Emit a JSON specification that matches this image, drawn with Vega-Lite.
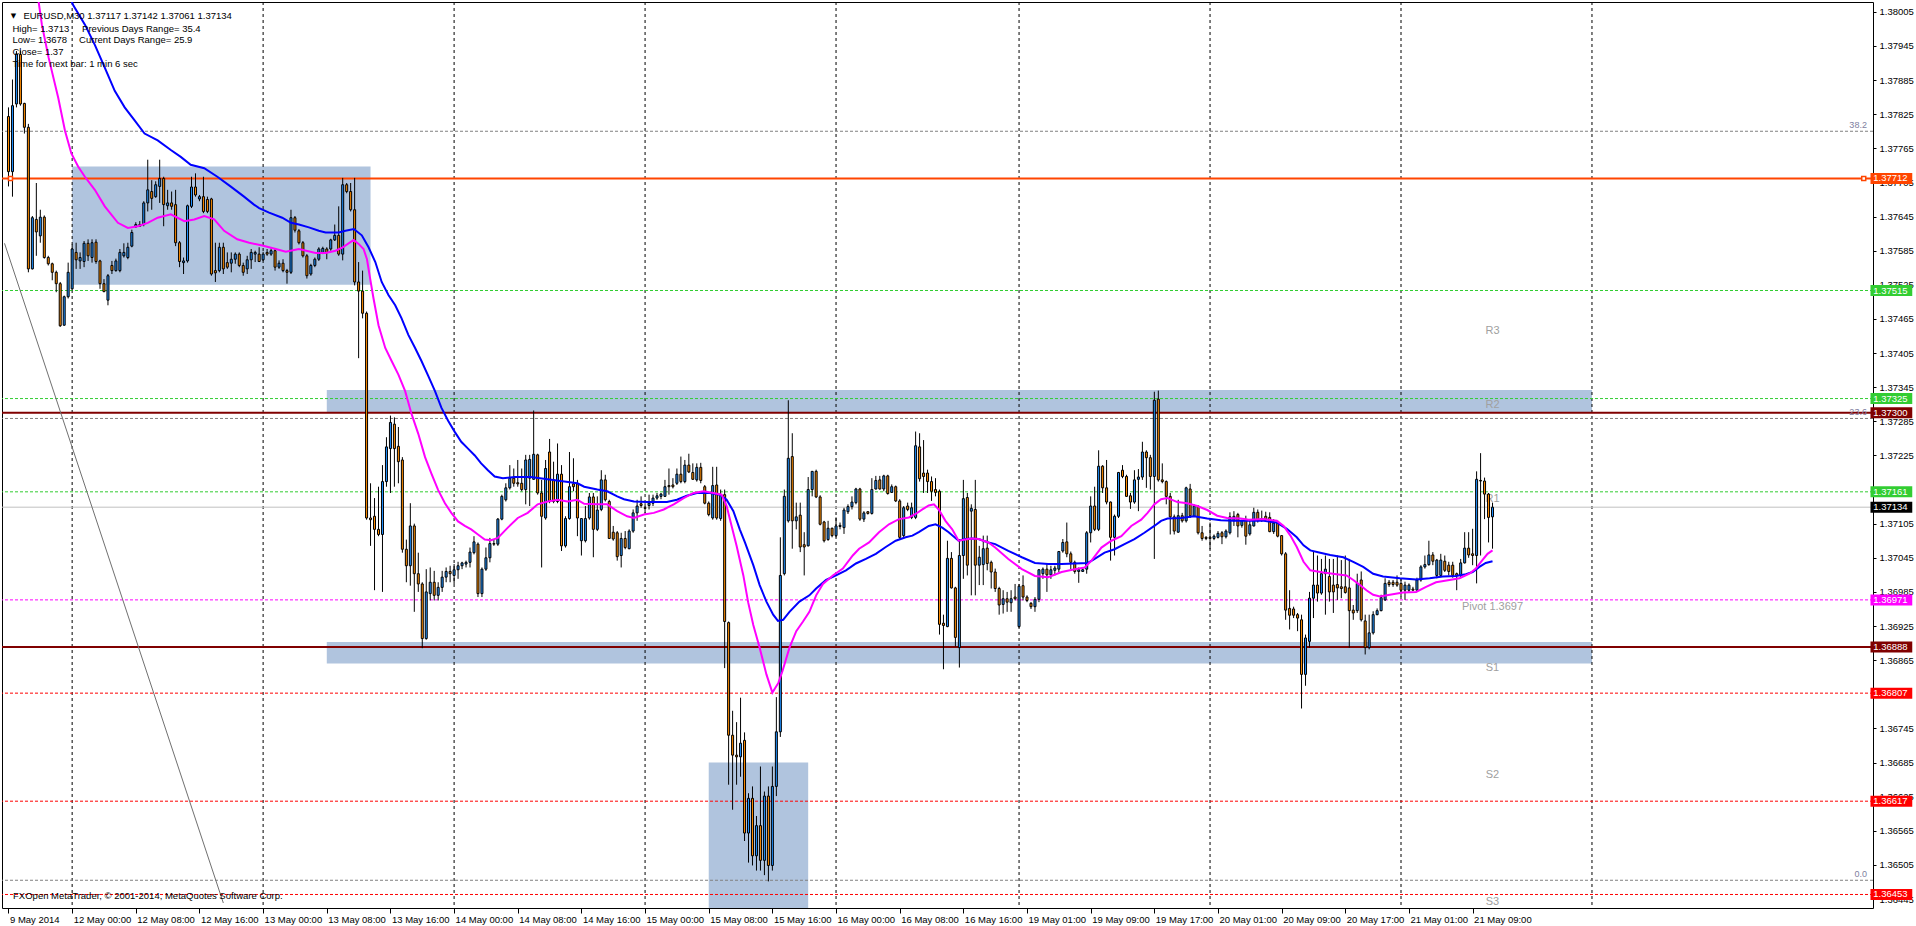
{
"$schema":"https://vega.github.io/schema/vega-lite/v6.json",
"width":1871,"height":906,
"autosize":{"type":"none"},
"padding":{"left":2,"top":2,"right":43,"bottom":18},
"background":"#ffffff",
"config":{"view":{"stroke":"#000000","strokeWidth":1},"font":"Liberation Sans",
 "axis":{"labelFont":"Liberation Sans","labelColor":"#000000","tickColor":"#000000","domain":false,"grid":false,"labelOverlap":false,"labelFlush":false,"labelBound":false},
 "axisX":{"labelAlign":"left","labelOffset":1,"labelFontSize":9.5,"tickSize":5,"labelPadding":1},
 "axisY":{"tickSize":3,"labelPadding":3,"labelFontSize":9.5}},
"resolve":{"axis":{"x":"shared","y":"shared"}},
"datasets":{
"zones":[{"x0":16,"x1":91,"p0":1.37525,"p1":1.37733},{"x0":80,"x1":398,"p0":1.37301,"p1":1.37340},{"x0":80,"x1":398,"p0":1.36859,"p1":1.36897},{"x0":176,"x1":201,"p0":1.36400,"p1":1.36685}],
"grid":[{"i":16},{"i":64},{"i":112},{"i":160},{"i":208},{"i":254},{"i":302},{"i":350},{"i":398}],
"levels":[{"p":1.37712,"k":"hline"},{"p":1.37300,"k":"zone"},{"p":1.36888,"k":"zone"},{"p":1.37515,"k":"res"},{"p":1.37325,"k":"res"},{"p":1.37161,"k":"res"},{"p":1.37134,"k":"price"},{"p":1.36971,"k":"pivot"},{"p":1.36807,"k":"sup"},{"p":1.36617,"k":"sup"},{"p":1.36453,"k":"sup"},{"p":1.37795,"k":"fib"},{"p":1.37290,"k":"fib"},{"p":1.36478,"k":"fib"}],
"fibtext":[{"p":1.37795,"t":"38.2"},{"p":1.37290,"t":"23.6"},{"p":1.36478,"t":"0.0"}],
"plabels":[{"p":1.37443,"t":"R3"},{"p":1.37314,"t":"R2"},{"p":1.37149,"t":"R1"},{"p":1.36959,"t":"Pivot  1.3697"},{"p":1.36852,"t":"S1"},{"p":1.36663,"t":"S2"},{"p":1.36440,"t":"S3"}],
"trend":[{"i":-1,"p":1.37598},{"i":54,"p":1.36438}],
"anchors":[{"i":0.5,"p":1.37712},{"i":466.3,"p":1.37712}],
"info":[{"i":3.75,"p":1.37998,"t":"EURUSD,M30  1.37117 1.37142 1.37061 1.37134"},{"i":1,"p":1.37975,"t":"High= 1.3713"},{"i":18.5,"p":1.37975,"t":"Previous Days Range= 35.4"},{"i":1,"p":1.37956,"t":"Low= 1.3678"},{"i":17.75,"p":1.37956,"t":"Current Days Range= 25.9"},{"i":1,"p":1.37934,"t":"Close= 1.37"},{"i":1,"p":1.37913,"t":"Time for next bar: 1 min 6 sec"},{"i":1.15,"p":1.36451,"t":"FXOpen MetaTrader, © 2001-2014, MetaQuotes Software Corp."}],
"tri":[{"i":1.25,"p":1.37998,"t":"▼"}],
"mab":[{"i":10,"p":1.38117},{"i":16.25,"p":1.38017},{"i":19.25,"p":1.37982},{"i":21.7,"p":1.37947},{"i":24.2,"p":1.37907},{"i":26.7,"p":1.37866},{"i":29.2,"p":1.37837},{"i":31.7,"p":1.37814},{"i":34.2,"p":1.37791},{"i":37.5,"p":1.37779},{"i":40.8,"p":1.37762},{"i":43.3,"p":1.37750},{"i":45.8,"p":1.37736},{"i":49.2,"p":1.37730},{"i":52.5,"p":1.37715},{"i":55.8,"p":1.37698},{"i":59.2,"p":1.37680},{"i":61.7,"p":1.37666},{"i":63,"p":1.37660},{"i":65.5,"p":1.37652},{"i":68.8,"p":1.37643},{"i":71,"p":1.37634},{"i":73,"p":1.37631},{"i":75.5,"p":1.37626},{"i":78,"p":1.37620},{"i":79.7,"p":1.37617},{"i":83,"p":1.37617},{"i":84.7,"p":1.37620},{"i":86.8,"p":1.37623},{"i":88.8,"p":1.37612},{"i":90.5,"p":1.37591},{"i":92.2,"p":1.37565},{"i":93.8,"p":1.37530},{"i":95.5,"p":1.37507},{"i":97.2,"p":1.37489},{"i":98.8,"p":1.37466},{"i":100.5,"p":1.37437},{"i":102.2,"p":1.37414},{"i":103.8,"p":1.37391},{"i":105.5,"p":1.37365},{"i":107.2,"p":1.37338},{"i":108.8,"p":1.37309},{"i":110.5,"p":1.37286},{"i":112.2,"p":1.37266},{"i":113.8,"p":1.37249},{"i":115.5,"p":1.37237},{"i":117.2,"p":1.37225},{"i":118.8,"p":1.37211},{"i":120.5,"p":1.37199},{"i":122.2,"p":1.37188},{"i":124.25,"p":1.37185},{"i":127.2,"p":1.37187},{"i":131.3,"p":1.37187},{"i":135.5,"p":1.37183},{"i":139.7,"p":1.37179},{"i":143,"p":1.37176},{"i":144.7,"p":1.37170},{"i":148,"p":1.37165},{"i":150.5,"p":1.37162},{"i":153,"p":1.37153},{"i":154.7,"p":1.37148},{"i":157.2,"p":1.37144},{"i":160.5,"p":1.37143},{"i":165.5,"p":1.37143},{"i":168,"p":1.37147},{"i":170.5,"p":1.37154},{"i":173,"p":1.37159},{"i":176.3,"p":1.37159},{"i":178.8,"p":1.37156},{"i":180.5,"p":1.37147},{"i":182.2,"p":1.37127},{"i":183.8,"p":1.37095},{"i":185.1,"p":1.37072},{"i":187.2,"p":1.37032},{"i":188.8,"p":1.36997},{"i":190.5,"p":1.36968},{"i":192.2,"p":1.36945},{"i":193.4,"p":1.36934},{"i":194.7,"p":1.36936},{"i":196.3,"p":1.36950},{"i":198.8,"p":1.36968},{"i":201.3,"p":1.36979},{"i":203,"p":1.36991},{"i":205.5,"p":1.37006},{"i":208,"p":1.37014},{"i":210.5,"p":1.37023},{"i":213,"p":1.37035},{"i":215.5,"p":1.37043},{"i":218,"p":1.37052},{"i":220.5,"p":1.37064},{"i":223,"p":1.37075},{"i":225.5,"p":1.37081},{"i":227.2,"p":1.37084},{"i":228.8,"p":1.37090},{"i":231.3,"p":1.37101},{"i":233,"p":1.37104},{"i":234.7,"p":1.37098},{"i":236.3,"p":1.37090},{"i":238.8,"p":1.37075},{"i":240.5,"p":1.37078},{"i":242.2,"p":1.37079},{"i":243.8,"p":1.37078},{"i":246.3,"p":1.37072},{"i":248,"p":1.37069},{"i":251.3,"p":1.37057},{"i":254.7,"p":1.37046},{"i":258,"p":1.37036},{"i":261.3,"p":1.37034},{"i":264.7,"p":1.37034},{"i":268,"p":1.37035},{"i":271.3,"p":1.37036},{"i":273,"p":1.37043},{"i":275.5,"p":1.37054},{"i":278,"p":1.37060},{"i":280.5,"p":1.37069},{"i":283,"p":1.37078},{"i":285.5,"p":1.37089},{"i":288,"p":1.37101},{"i":289.7,"p":1.37110},{"i":291.3,"p":1.37114},{"i":294.7,"p":1.37115},{"i":298,"p":1.37118},{"i":301.3,"p":1.37114},{"i":304.7,"p":1.37111},{"i":308,"p":1.37110},{"i":311.75,"p":1.37110},{"i":315.5,"p":1.37110},{"i":318.8,"p":1.37107},{"i":321.3,"p":1.37096},{"i":323.8,"p":1.37081},{"i":325.5,"p":1.37067},{"i":327.2,"p":1.37058},{"i":329.7,"p":1.37054},{"i":332.2,"p":1.37050},{"i":335.5,"p":1.37046},{"i":338,"p":1.37038},{"i":340.5,"p":1.37029},{"i":343,"p":1.37017},{"i":345.5,"p":1.37012},{"i":349.7,"p":1.37009},{"i":353.8,"p":1.37007},{"i":357.2,"p":1.37009},{"i":360.5,"p":1.37012},{"i":363.8,"p":1.37013},{"i":366.3,"p":1.37016},{"i":368,"p":1.37020},{"i":369.7,"p":1.37029},{"i":371.3,"p":1.37036},{"i":373,"p":1.37039}],
"mam":[{"i":6,"p":1.38100},{"i":8.4,"p":1.37982},{"i":10.1,"p":1.37924},{"i":12.5,"p":1.37854},{"i":14.2,"p":1.37796},{"i":15.8,"p":1.37756},{"i":17.5,"p":1.37733},{"i":19.2,"p":1.37715},{"i":21.7,"p":1.37692},{"i":24.2,"p":1.37663},{"i":27.5,"p":1.37634},{"i":30,"p":1.37625},{"i":32.5,"p":1.37628},{"i":35,"p":1.37634},{"i":37.5,"p":1.37643},{"i":40.8,"p":1.37649},{"i":44.2,"p":1.37637},{"i":46.7,"p":1.37640},{"i":49.2,"p":1.37646},{"i":51.7,"p":1.37640},{"i":54.2,"p":1.37620},{"i":57.5,"p":1.37605},{"i":60.5,"p":1.37599},{"i":63.8,"p":1.37594},{"i":67.2,"p":1.37588},{"i":69.7,"p":1.37583},{"i":73,"p":1.37588},{"i":77.2,"p":1.37581},{"i":79.7,"p":1.37581},{"i":82.2,"p":1.37585},{"i":84,"p":1.37591},{"i":86.75,"p":1.37604},{"i":88,"p":1.37597},{"i":89.25,"p":1.37588},{"i":90.1,"p":1.37570},{"i":90.9,"p":1.37536},{"i":91.75,"p":1.37501},{"i":93,"p":1.37454},{"i":94.7,"p":1.37414},{"i":96.3,"p":1.37391},{"i":98,"p":1.37367},{"i":99.7,"p":1.37338},{"i":101.3,"p":1.37298},{"i":103,"p":1.37263},{"i":104.7,"p":1.37222},{"i":106.3,"p":1.37193},{"i":108,"p":1.37164},{"i":109.7,"p":1.37141},{"i":111.3,"p":1.37124},{"i":113,"p":1.37109},{"i":114.7,"p":1.37101},{"i":116.3,"p":1.37095},{"i":118,"p":1.37086},{"i":119.7,"p":1.37077},{"i":121.3,"p":1.37076},{"i":123,"p":1.37080},{"i":125.5,"p":1.37098},{"i":128,"p":1.37115},{"i":130.5,"p":1.37124},{"i":133,"p":1.37139},{"i":135.5,"p":1.37144},{"i":138,"p":1.37147},{"i":140.5,"p":1.37144},{"i":143,"p":1.37147},{"i":144.7,"p":1.37140},{"i":148,"p":1.37139},{"i":150.5,"p":1.37139},{"i":153,"p":1.37127},{"i":155.5,"p":1.37118},{"i":157.2,"p":1.37115},{"i":159.7,"p":1.37121},{"i":162.2,"p":1.37124},{"i":164.7,"p":1.37130},{"i":167.2,"p":1.37139},{"i":169.7,"p":1.37150},{"i":172.2,"p":1.37159},{"i":174.7,"p":1.37162},{"i":177.2,"p":1.37159},{"i":179.25,"p":1.37156},{"i":180.5,"p":1.37136},{"i":181.75,"p":1.37101},{"i":183,"p":1.37066},{"i":184.7,"p":1.37014},{"i":185.9,"p":1.36967},{"i":187.2,"p":1.36927},{"i":188.8,"p":1.36887},{"i":190.5,"p":1.36840},{"i":192,"p":1.36808},{"i":193.5,"p":1.36825},{"i":194.5,"p":1.36845},{"i":196.3,"p":1.36887},{"i":198,"p":1.36916},{"i":199.7,"p":1.36933},{"i":201.3,"p":1.36950},{"i":203,"p":1.36979},{"i":204.7,"p":1.36999},{"i":207.2,"p":1.37014},{"i":209.7,"p":1.37026},{"i":212.2,"p":1.37049},{"i":213.8,"p":1.37061},{"i":216.3,"p":1.37072},{"i":218.8,"p":1.37090},{"i":221.3,"p":1.37104},{"i":223.8,"p":1.37113},{"i":226.3,"p":1.37116},{"i":228,"p":1.37122},{"i":229.7,"p":1.37130},{"i":231.3,"p":1.37137},{"i":232.6,"p":1.37139},{"i":233.8,"p":1.37130},{"i":235.5,"p":1.37110},{"i":237.2,"p":1.37095},{"i":238.8,"p":1.37075},{"i":240.5,"p":1.37077},{"i":242.2,"p":1.37079},{"i":243.8,"p":1.37078},{"i":246.3,"p":1.37072},{"i":248,"p":1.37063},{"i":251.3,"p":1.37043},{"i":254.7,"p":1.37025},{"i":258,"p":1.37013},{"i":261.3,"p":1.37011},{"i":264.7,"p":1.37020},{"i":268,"p":1.37025},{"i":270.5,"p":1.37028},{"i":272.2,"p":1.37040},{"i":274.7,"p":1.37063},{"i":277.2,"p":1.37075},{"i":279.7,"p":1.37083},{"i":282.2,"p":1.37101},{"i":284.7,"p":1.37112},{"i":286.3,"p":1.37124},{"i":288,"p":1.37139},{"i":289.7,"p":1.37148},{"i":291.3,"p":1.37150},{"i":293.8,"p":1.37143},{"i":296.3,"p":1.37141},{"i":298.8,"p":1.37136},{"i":301.3,"p":1.37129},{"i":303.8,"p":1.37119},{"i":306.3,"p":1.37115},{"i":309.7,"p":1.37114},{"i":311.75,"p":1.37112},{"i":315.5,"p":1.37113},{"i":318.8,"p":1.37110},{"i":320.5,"p":1.37101},{"i":322.2,"p":1.37084},{"i":323.8,"p":1.37064},{"i":325.5,"p":1.37038},{"i":327.2,"p":1.37023},{"i":330.5,"p":1.37019},{"i":333.8,"p":1.37016},{"i":336.3,"p":1.37014},{"i":338,"p":1.37006},{"i":339.7,"p":1.36997},{"i":341.3,"p":1.36988},{"i":343,"p":1.36980},{"i":344.7,"p":1.36977},{"i":347.2,"p":1.36980},{"i":350.5,"p":1.36984},{"i":353.8,"p":1.36985},{"i":356.3,"p":1.36994},{"i":358.8,"p":1.37002},{"i":362.2,"p":1.37006},{"i":364.7,"p":1.37009},{"i":367.2,"p":1.37017},{"i":368.8,"p":1.37026},{"i":370.1,"p":1.37038},{"i":371.75,"p":1.37052},{"i":373,"p":1.37058}],
"candles":[
{"i":0,"o":1.37821,"h":1.37837,"l":1.37698,"c":1.37724},{"i":1,"o":1.37724,"h":1.37886,"l":1.37680,"c":1.37840},{"i":2,"o":1.37843,"h":1.37936,"l":1.37837,"c":1.37931},{"i":3,"o":1.37930,"h":1.37937,"l":1.37840,"c":1.37843},{"i":4,"o":1.37844,"h":1.37845,"l":1.37791,"c":1.37802},{"i":5,"o":1.37802,"h":1.37808,"l":1.37547,"c":1.37553},{"i":6,"o":1.37553,"h":1.37646,"l":1.37552,"c":1.37643},{"i":7,"o":1.37640,"h":1.37704,"l":1.37576,"c":1.37618},{"i":8,"o":1.37611,"h":1.37657,"l":1.37599,"c":1.37644},{"i":9,"o":1.37644,"h":1.37647,"l":1.37571,"c":1.37573},
{"i":10,"o":1.37573,"h":1.37576,"l":1.37559,"c":1.37562},{"i":11,"o":1.37562,"h":1.37564,"l":1.37533,"c":1.37547},{"i":12,"o":1.37547,"h":1.37550,"l":1.37512,"c":1.37527},{"i":13,"o":1.37527,"h":1.37530,"l":1.37451,"c":1.37453},{"i":14,"o":1.37454,"h":1.37506,"l":1.37453,"c":1.37504},{"i":15,"o":1.37504,"h":1.37564,"l":1.37501,"c":1.37547},{"i":16,"o":1.37518,"h":1.37596,"l":1.37515,"c":1.37588},{"i":17,"o":1.37582,"h":1.37599,"l":1.37553,"c":1.37569},{"i":18,"o":1.37567,"h":1.37582,"l":1.37553,"c":1.37573},{"i":19,"o":1.37566,"h":1.37602,"l":1.37556,"c":1.37598},
{"i":20,"o":1.37598,"h":1.37605,"l":1.37567,"c":1.37576},{"i":21,"o":1.37573,"h":1.37605,"l":1.37564,"c":1.37599},{"i":22,"o":1.37600,"h":1.37605,"l":1.37562,"c":1.37566},{"i":23,"o":1.37567,"h":1.37569,"l":1.37518,"c":1.37527},{"i":24,"o":1.37527,"h":1.37535,"l":1.37512,"c":1.37513},{"i":25,"o":1.37498,"h":1.37544,"l":1.37489,"c":1.37541},{"i":26,"o":1.37559,"h":1.37567,"l":1.37544,"c":1.37550},{"i":27,"o":1.37550,"h":1.37571,"l":1.37548,"c":1.37567},{"i":28,"o":1.37550,"h":1.37588,"l":1.37547,"c":1.37582},{"i":29,"o":1.37576,"h":1.37598,"l":1.37573,"c":1.37582},
{"i":30,"o":1.37573,"h":1.37599,"l":1.37570,"c":1.37591},{"i":31,"o":1.37593,"h":1.37622,"l":1.37591,"c":1.37617},{"i":32,"o":1.37627,"h":1.37635,"l":1.37625,"c":1.37631},{"i":33,"o":1.37631,"h":1.37637,"l":1.37627,"c":1.37628},{"i":34,"o":1.37631,"h":1.37672,"l":1.37628,"c":1.37669},{"i":35,"o":1.37669,"h":1.37745,"l":1.37654,"c":1.37692},{"i":36,"o":1.37689,"h":1.37709,"l":1.37657,"c":1.37677},{"i":37,"o":1.37680,"h":1.37707,"l":1.37678,"c":1.37701},{"i":38,"o":1.37698,"h":1.37745,"l":1.37669,"c":1.37712},{"i":39,"o":1.37712,"h":1.37715,"l":1.37628,"c":1.37666},
{"i":40,"o":1.37664,"h":1.37692,"l":1.37657,"c":1.37669},{"i":41,"o":1.37669,"h":1.37689,"l":1.37657,"c":1.37663},{"i":42,"o":1.37666,"h":1.37692,"l":1.37593,"c":1.37599},{"i":43,"o":1.37599,"h":1.37602,"l":1.37556,"c":1.37566},{"i":44,"o":1.37564,"h":1.37573,"l":1.37544,"c":1.37567},{"i":45,"o":1.37567,"h":1.37666,"l":1.37564,"c":1.37664},{"i":46,"o":1.37663,"h":1.37715,"l":1.37660,"c":1.37697},{"i":47,"o":1.37697,"h":1.37721,"l":1.37680,"c":1.37683},{"i":48,"o":1.37676,"h":1.37683,"l":1.37672,"c":1.37680},{"i":49,"o":1.37680,"h":1.37715,"l":1.37651,"c":1.37654},
{"i":50,"o":1.37675,"h":1.37680,"l":1.37651,"c":1.37654},{"i":51,"o":1.37676,"h":1.37678,"l":1.37541,"c":1.37544},{"i":52,"o":1.37550,"h":1.37599,"l":1.37530,"c":1.37546},{"i":53,"o":1.37550,"h":1.37599,"l":1.37547,"c":1.37591},{"i":54,"o":1.37591,"h":1.37599,"l":1.37544,"c":1.37553},{"i":55,"o":1.37564,"h":1.37582,"l":1.37553,"c":1.37556},{"i":56,"o":1.37563,"h":1.37582,"l":1.37547,"c":1.37570},{"i":57,"o":1.37570,"h":1.37582,"l":1.37562,"c":1.37579},{"i":58,"o":1.37579,"h":1.37582,"l":1.37556,"c":1.37559},{"i":59,"o":1.37559,"h":1.37564,"l":1.37541,"c":1.37547},
{"i":60,"o":1.37553,"h":1.37576,"l":1.37544,"c":1.37569},{"i":61,"o":1.37569,"h":1.37588,"l":1.37553,"c":1.37582},{"i":62,"o":1.37579,"h":1.37585,"l":1.37565,"c":1.37582},{"i":63,"o":1.37579,"h":1.37591,"l":1.37565,"c":1.37566},{"i":64,"o":1.37569,"h":1.37583,"l":1.37567,"c":1.37579},{"i":65,"o":1.37582,"h":1.37588,"l":1.37576,"c":1.37579},{"i":66,"o":1.37579,"h":1.37589,"l":1.37576,"c":1.37585},{"i":67,"o":1.37585,"h":1.37588,"l":1.37550,"c":1.37556},{"i":68,"o":1.37556,"h":1.37568,"l":1.37553,"c":1.37563},{"i":69,"o":1.37563,"h":1.37570,"l":1.37547,"c":1.37550},
{"i":70,"o":1.37550,"h":1.37553,"l":1.37527,"c":1.37547},{"i":71,"o":1.37547,"h":1.37657,"l":1.37544,"c":1.37643},{"i":72,"o":1.37643,"h":1.37646,"l":1.37617,"c":1.37621},{"i":73,"o":1.37620,"h":1.37623,"l":1.37596,"c":1.37599},{"i":74,"o":1.37599,"h":1.37602,"l":1.37573,"c":1.37576},{"i":75,"o":1.37576,"h":1.37579,"l":1.37536,"c":1.37541},{"i":76,"o":1.37544,"h":1.37562,"l":1.37541,"c":1.37559},{"i":77,"o":1.37559,"h":1.37573,"l":1.37556,"c":1.37570},{"i":78,"o":1.37570,"h":1.37591,"l":1.37567,"c":1.37588},{"i":79,"o":1.37582,"h":1.37592,"l":1.37579,"c":1.37589},
{"i":80,"o":1.37588,"h":1.37591,"l":1.37570,"c":1.37582},{"i":81,"o":1.37588,"h":1.37606,"l":1.37585,"c":1.37604},{"i":82,"o":1.37604,"h":1.37631,"l":1.37602,"c":1.37612},{"i":83,"o":1.37612,"h":1.37663,"l":1.37576,"c":1.37579},{"i":84,"o":1.37579,"h":1.37713,"l":1.37568,"c":1.37701},{"i":85,"o":1.37701,"h":1.37704,"l":1.37686,"c":1.37689},{"i":86,"o":1.37689,"h":1.37704,"l":1.37654,"c":1.37657},{"i":87,"o":1.37657,"h":1.37713,"l":1.37524,"c":1.37530},{"i":88,"o":1.37530,"h":1.37565,"l":1.37396,"c":1.37514},{"i":89,"o":1.37514,"h":1.37550,"l":1.37466,"c":1.37475},
{"i":90,"o":1.37475,"h":1.37478,"l":1.37112,"c":1.37115},{"i":91,"o":1.37115,"h":1.37176,"l":1.37066,"c":1.37112},{"i":92,"o":1.37118,"h":1.37150,"l":1.36988,"c":1.37095},{"i":93,"o":1.37095,"h":1.37170,"l":1.37083,"c":1.37086},{"i":94,"o":1.37086,"h":1.37208,"l":1.36985,"c":1.37179},{"i":95,"o":1.37179,"h":1.37257,"l":1.37170,"c":1.37240},{"i":96,"o":1.37237,"h":1.37295,"l":1.37159,"c":1.37283},{"i":97,"o":1.37280,"h":1.37292,"l":1.37170,"c":1.37237},{"i":98,"o":1.37241,"h":1.37275,"l":1.37176,"c":1.37214},{"i":99,"o":1.37217,"h":1.37222,"l":1.37054,"c":1.37060},
{"i":100,"o":1.37060,"h":1.37077,"l":1.37002,"c":1.37031},{"i":101,"o":1.37031,"h":1.37141,"l":1.36996,"c":1.37101},{"i":102,"o":1.37101,"h":1.37105,"l":1.36950,"c":1.37017},{"i":103,"o":1.37017,"h":1.37054,"l":1.36985,"c":1.36999},{"i":104,"o":1.36999,"h":1.37002,"l":1.36886,"c":1.36903},{"i":105,"o":1.36903,"h":1.37025,"l":1.36901,"c":1.36985},{"i":106,"o":1.36982,"h":1.37028,"l":1.36970,"c":1.37002},{"i":107,"o":1.37002,"h":1.37022,"l":1.36970,"c":1.36979},{"i":108,"o":1.36979,"h":1.37002,"l":1.36970,"c":1.36993},{"i":109,"o":1.36993,"h":1.37022,"l":1.36985,"c":1.37011},
{"i":110,"o":1.37011,"h":1.37028,"l":1.37002,"c":1.37021},{"i":111,"o":1.37021,"h":1.37031,"l":1.37002,"c":1.37017},{"i":112,"o":1.37014,"h":1.37034,"l":1.36999,"c":1.37024},{"i":113,"o":1.37024,"h":1.37038,"l":1.37008,"c":1.37031},{"i":114,"o":1.37031,"h":1.37038,"l":1.37025,"c":1.37036},{"i":115,"o":1.37034,"h":1.37040,"l":1.37028,"c":1.37037},{"i":116,"o":1.37037,"h":1.37063,"l":1.37028,"c":1.37055},{"i":117,"o":1.37054,"h":1.37083,"l":1.37051,"c":1.37073},{"i":118,"o":1.37069,"h":1.37072,"l":1.36976,"c":1.36982},{"i":119,"o":1.36982,"h":1.37028,"l":1.36976,"c":1.37025},
{"i":120,"o":1.37025,"h":1.37063,"l":1.37022,"c":1.37045},{"i":121,"o":1.37045,"h":1.37080,"l":1.37037,"c":1.37070},{"i":122,"o":1.37070,"h":1.37077,"l":1.37066,"c":1.37069},{"i":123,"o":1.37069,"h":1.37115,"l":1.37066,"c":1.37113},{"i":124,"o":1.37113,"h":1.37156,"l":1.37111,"c":1.37153},{"i":125,"o":1.37147,"h":1.37176,"l":1.37144,"c":1.37168},{"i":126,"o":1.37168,"h":1.37208,"l":1.37165,"c":1.37185},{"i":127,"o":1.37185,"h":1.37202,"l":1.37170,"c":1.37176},{"i":128,"o":1.37177,"h":1.37217,"l":1.37170,"c":1.37175},{"i":129,"o":1.37176,"h":1.37202,"l":1.37162,"c":1.37165},
{"i":130,"o":1.37165,"h":1.37226,"l":1.37139,"c":1.37217},{"i":131,"o":1.37185,"h":1.37226,"l":1.37136,"c":1.37218},{"i":132,"o":1.37183,"h":1.37304,"l":1.37182,"c":1.37227},{"i":133,"o":1.37226,"h":1.37228,"l":1.37156,"c":1.37159},{"i":134,"o":1.37159,"h":1.37182,"l":1.37028,"c":1.37118},{"i":135,"o":1.37115,"h":1.37217,"l":1.37112,"c":1.37202},{"i":136,"o":1.37231,"h":1.37254,"l":1.37141,"c":1.37144},{"i":137,"o":1.37182,"h":1.37214,"l":1.37141,"c":1.37144},{"i":138,"o":1.37144,"h":1.37246,"l":1.37141,"c":1.37192},{"i":139,"o":1.37192,"h":1.37208,"l":1.37057,"c":1.37066},
{"i":140,"o":1.37066,"h":1.37118,"l":1.37063,"c":1.37114},{"i":141,"o":1.37114,"h":1.37231,"l":1.37112,"c":1.37170},{"i":142,"o":1.37175,"h":1.37220,"l":1.37162,"c":1.37170},{"i":143,"o":1.37175,"h":1.37182,"l":1.37083,"c":1.37115},{"i":144,"o":1.37075,"h":1.37115,"l":1.37049,"c":1.37114},{"i":145,"o":1.37075,"h":1.37136,"l":1.37072,"c":1.37114},{"i":146,"o":1.37115,"h":1.37159,"l":1.37112,"c":1.37152},{"i":147,"o":1.37152,"h":1.37159,"l":1.37046,"c":1.37095},{"i":148,"o":1.37095,"h":1.37153,"l":1.37092,"c":1.37129},{"i":149,"o":1.37130,"h":1.37199,"l":1.37127,"c":1.37182},
{"i":150,"o":1.37182,"h":1.37191,"l":1.37144,"c":1.37147},{"i":151,"o":1.37144,"h":1.37147,"l":1.37078,"c":1.37079},{"i":152,"o":1.37090,"h":1.37101,"l":1.37075,"c":1.37078},{"i":153,"o":1.37089,"h":1.37092,"l":1.37040,"c":1.37047},{"i":154,"o":1.37049,"h":1.37089,"l":1.37028,"c":1.37079},{"i":155,"o":1.37079,"h":1.37092,"l":1.37060,"c":1.37063},{"i":156,"o":1.37061,"h":1.37095,"l":1.37060,"c":1.37092},{"i":157,"o":1.37092,"h":1.37130,"l":1.37089,"c":1.37124},{"i":158,"o":1.37124,"h":1.37147,"l":1.37110,"c":1.37136},{"i":159,"o":1.37140,"h":1.37153,"l":1.37133,"c":1.37137},
{"i":160,"o":1.37133,"h":1.37141,"l":1.37124,"c":1.37132},{"i":161,"o":1.37137,"h":1.37156,"l":1.37130,"c":1.37141},{"i":162,"o":1.37141,"h":1.37156,"l":1.37136,"c":1.37150},{"i":163,"o":1.37150,"h":1.37159,"l":1.37147,"c":1.37154},{"i":164,"o":1.37153,"h":1.37159,"l":1.37148,"c":1.37157},{"i":165,"o":1.37153,"h":1.37182,"l":1.37152,"c":1.37170},{"i":166,"o":1.37172,"h":1.37202,"l":1.37156,"c":1.37170},{"i":167,"o":1.37173,"h":1.37185,"l":1.37167,"c":1.37170},{"i":168,"o":1.37176,"h":1.37202,"l":1.37173,"c":1.37192},{"i":169,"o":1.37192,"h":1.37223,"l":1.37176,"c":1.37179},
{"i":170,"o":1.37179,"h":1.37217,"l":1.37176,"c":1.37208},{"i":171,"o":1.37208,"h":1.37228,"l":1.37194,"c":1.37196},{"i":172,"o":1.37195,"h":1.37211,"l":1.37182,"c":1.37183},{"i":173,"o":1.37182,"h":1.37211,"l":1.37179,"c":1.37204},{"i":174,"o":1.37204,"h":1.37212,"l":1.37176,"c":1.37181},{"i":175,"o":1.37170,"h":1.37173,"l":1.37139,"c":1.37141},{"i":176,"o":1.37141,"h":1.37144,"l":1.37118,"c":1.37121},{"i":177,"o":1.37115,"h":1.37205,"l":1.37112,"c":1.37172},{"i":178,"o":1.37173,"h":1.37205,"l":1.37112,"c":1.37115},{"i":179,"o":1.37114,"h":1.37165,"l":1.37110,"c":1.37156},
{"i":180,"o":1.37156,"h":1.37165,"l":1.36851,"c":1.36933},{"i":181,"o":1.36931,"h":1.36933,"l":1.36646,"c":1.36733},{"i":182,"o":1.36733,"h":1.36776,"l":1.36602,"c":1.36698},{"i":183,"o":1.36698,"h":1.36756,"l":1.36646,"c":1.36695},{"i":184,"o":1.36695,"h":1.36799,"l":1.36660,"c":1.36719},{"i":185,"o":1.36724,"h":1.36738,"l":1.36547,"c":1.36561},{"i":186,"o":1.36561,"h":1.36631,"l":1.36509,"c":1.36622},{"i":187,"o":1.36622,"h":1.36643,"l":1.36504,"c":1.36521},{"i":188,"o":1.36521,"h":1.36591,"l":1.36495,"c":1.36574},{"i":189,"o":1.36574,"h":1.36678,"l":1.36495,"c":1.36513},
{"i":190,"o":1.36513,"h":1.36634,"l":1.36487,"c":1.36626},{"i":191,"o":1.36626,"h":1.36643,"l":1.36476,"c":1.36504},{"i":192,"o":1.36504,"h":1.36678,"l":1.36495,"c":1.36643},{"i":193,"o":1.36643,"h":1.36800,"l":1.36626,"c":1.36739},{"i":194,"o":1.36739,"h":1.37081,"l":1.36730,"c":1.37014},{"i":195,"o":1.37017,"h":1.37165,"l":1.37014,"c":1.37153},{"i":196,"o":1.37110,"h":1.37322,"l":1.37107,"c":1.37220},{"i":197,"o":1.37223,"h":1.37264,"l":1.37061,"c":1.37110},{"i":198,"o":1.37110,"h":1.37142,"l":1.37095,"c":1.37117},{"i":199,"o":1.37120,"h":1.37142,"l":1.37055,"c":1.37064},
{"i":200,"o":1.37068,"h":1.37090,"l":1.37014,"c":1.37064},{"i":201,"o":1.37066,"h":1.37187,"l":1.37065,"c":1.37165},{"i":202,"o":1.37165,"h":1.37197,"l":1.37153,"c":1.37197},{"i":203,"o":1.37197,"h":1.37200,"l":1.37150,"c":1.37152},{"i":204,"o":1.37152,"h":1.37155,"l":1.37102,"c":1.37104},{"i":205,"o":1.37108,"h":1.37110,"l":1.37072,"c":1.37075},{"i":206,"o":1.37077,"h":1.37110,"l":1.37075,"c":1.37097},{"i":207,"o":1.37097,"h":1.37098,"l":1.37081,"c":1.37084},{"i":208,"o":1.37084,"h":1.37116,"l":1.37081,"c":1.37101},{"i":209,"o":1.37100,"h":1.37107,"l":1.37095,"c":1.37102},
{"i":210,"o":1.37098,"h":1.37133,"l":1.37087,"c":1.37129},{"i":211,"o":1.37126,"h":1.37139,"l":1.37122,"c":1.37135},{"i":212,"o":1.37135,"h":1.37153,"l":1.37130,"c":1.37143},{"i":213,"o":1.37142,"h":1.37168,"l":1.37139,"c":1.37166},{"i":214,"o":1.37166,"h":1.37168,"l":1.37110,"c":1.37113},{"i":215,"o":1.37113,"h":1.37127,"l":1.37108,"c":1.37124},{"i":216,"o":1.37126,"h":1.37127,"l":1.37121,"c":1.37123},{"i":217,"o":1.37123,"h":1.37185,"l":1.37121,"c":1.37165},{"i":218,"o":1.37166,"h":1.37189,"l":1.37165,"c":1.37181},{"i":219,"o":1.37182,"h":1.37189,"l":1.37165,"c":1.37166},
{"i":220,"o":1.37166,"h":1.37191,"l":1.37162,"c":1.37189},{"i":221,"o":1.37189,"h":1.37191,"l":1.37156,"c":1.37158},{"i":222,"o":1.37160,"h":1.37174,"l":1.37159,"c":1.37170},{"i":223,"o":1.37170,"h":1.37172,"l":1.37143,"c":1.37145},{"i":224,"o":1.37145,"h":1.37148,"l":1.37078,"c":1.37081},{"i":225,"o":1.37084,"h":1.37136,"l":1.37079,"c":1.37133},{"i":226,"o":1.37136,"h":1.37142,"l":1.37127,"c":1.37130},{"i":227,"o":1.37116,"h":1.37142,"l":1.37113,"c":1.37133},{"i":228,"o":1.37116,"h":1.37267,"l":1.37113,"c":1.37242},{"i":229,"o":1.37240,"h":1.37264,"l":1.37179,"c":1.37184},
{"i":230,"o":1.37194,"h":1.37252,"l":1.37159,"c":1.37188},{"i":231,"o":1.37194,"h":1.37200,"l":1.37159,"c":1.37179},{"i":232,"o":1.37179,"h":1.37188,"l":1.37145,"c":1.37162},{"i":233,"o":1.37165,"h":1.37185,"l":1.37153,"c":1.37160},{"i":234,"o":1.37162,"h":1.37165,"l":1.36910,"c":1.36928},{"i":235,"o":1.36930,"h":1.36945,"l":1.36849,"c":1.36926},{"i":236,"o":1.36924,"h":1.37075,"l":1.36923,"c":1.37044},{"i":237,"o":1.37044,"h":1.37055,"l":1.36991,"c":1.36992},{"i":238,"o":1.36992,"h":1.36994,"l":1.36889,"c":1.36905},{"i":239,"o":1.36887,"h":1.37078,"l":1.36852,"c":1.37049},
{"i":240,"o":1.37049,"h":1.37182,"l":1.37008,"c":1.37149},{"i":241,"o":1.37151,"h":1.37159,"l":1.37014,"c":1.37032},{"i":242,"o":1.37127,"h":1.37139,"l":1.36979,"c":1.37132},{"i":243,"o":1.37130,"h":1.37182,"l":1.36979,"c":1.37032},{"i":244,"o":1.37032,"h":1.37066,"l":1.36997,"c":1.37046},{"i":245,"o":1.37033,"h":1.37084,"l":1.36997,"c":1.37061},{"i":246,"o":1.37062,"h":1.37084,"l":1.37023,"c":1.37035},{"i":247,"o":1.37037,"h":1.37040,"l":1.36991,"c":1.37020},{"i":248,"o":1.37020,"h":1.37026,"l":1.36985,"c":1.36991},{"i":249,"o":1.36991,"h":1.36994,"l":1.36945,"c":1.36962},
{"i":250,"o":1.36963,"h":1.36988,"l":1.36947,"c":1.36973},{"i":251,"o":1.36973,"h":1.36985,"l":1.36950,"c":1.36967},{"i":252,"o":1.36966,"h":1.36988,"l":1.36950,"c":1.36973},{"i":253,"o":1.36976,"h":1.36999,"l":1.36970,"c":1.36973},{"i":254,"o":1.36924,"h":1.36999,"l":1.36922,"c":1.36995},{"i":255,"o":1.36996,"h":1.37014,"l":1.36970,"c":1.36976},{"i":256,"o":1.36976,"h":1.36979,"l":1.36967,"c":1.36970},{"i":257,"o":1.36965,"h":1.36967,"l":1.36955,"c":1.36959},{"i":258,"o":1.36959,"h":1.36976,"l":1.36950,"c":1.36972},{"i":259,"o":1.36972,"h":1.37025,"l":1.36967,"c":1.37024},
{"i":260,"o":1.37017,"h":1.37028,"l":1.37008,"c":1.37025},{"i":261,"o":1.37025,"h":1.37034,"l":1.36985,"c":1.37015},{"i":262,"o":1.37015,"h":1.37031,"l":1.37008,"c":1.37024},{"i":263,"o":1.37023,"h":1.37031,"l":1.37014,"c":1.37027},{"i":264,"o":1.37025,"h":1.37057,"l":1.37020,"c":1.37056},{"i":265,"o":1.37057,"h":1.37078,"l":1.37054,"c":1.37072},{"i":266,"o":1.37073,"h":1.37107,"l":1.37046,"c":1.37052},{"i":267,"o":1.37052,"h":1.37056,"l":1.37025,"c":1.37037},{"i":268,"o":1.37037,"h":1.37040,"l":1.37017,"c":1.37021},{"i":269,"o":1.37021,"h":1.37028,"l":1.37001,"c":1.37024},
{"i":270,"o":1.37021,"h":1.37028,"l":1.37020,"c":1.37024},{"i":271,"o":1.37025,"h":1.37092,"l":1.37017,"c":1.37089},{"i":272,"o":1.37089,"h":1.37153,"l":1.37072,"c":1.37136},{"i":273,"o":1.37136,"h":1.37170,"l":1.37092,"c":1.37095},{"i":274,"o":1.37095,"h":1.37234,"l":1.37092,"c":1.37206},{"i":275,"o":1.37206,"h":1.37208,"l":1.37159,"c":1.37168},{"i":276,"o":1.37168,"h":1.37217,"l":1.37139,"c":1.37143},{"i":277,"o":1.37143,"h":1.37144,"l":1.37040,"c":1.37081},{"i":278,"o":1.37081,"h":1.37121,"l":1.37049,"c":1.37118},{"i":279,"o":1.37118,"h":1.37196,"l":1.37115,"c":1.37195},
{"i":280,"o":1.37199,"h":1.37208,"l":1.37185,"c":1.37188},{"i":281,"o":1.37188,"h":1.37191,"l":1.37152,"c":1.37153},{"i":282,"o":1.37154,"h":1.37159,"l":1.37131,"c":1.37143},{"i":283,"o":1.37143,"h":1.37199,"l":1.37140,"c":1.37182},{"i":284,"o":1.37183,"h":1.37201,"l":1.37127,"c":1.37187},{"i":285,"o":1.37187,"h":1.37249,"l":1.37182,"c":1.37231},{"i":286,"o":1.37231,"h":1.37234,"l":1.37168,"c":1.37221},{"i":287,"o":1.37221,"h":1.37226,"l":1.37165,"c":1.37188},{"i":288,"o":1.37188,"h":1.37337,"l":1.37043,"c":1.37322},{"i":289,"o":1.37324,"h":1.37339,"l":1.37179,"c":1.37182},
{"i":290,"o":1.37182,"h":1.37211,"l":1.37176,"c":1.37179},{"i":291,"o":1.37179,"h":1.37181,"l":1.37139,"c":1.37153},{"i":292,"o":1.37153,"h":1.37159,"l":1.37086,"c":1.37117},{"i":293,"o":1.37117,"h":1.37121,"l":1.37086,"c":1.37092},{"i":294,"o":1.37090,"h":1.37147,"l":1.37089,"c":1.37119},{"i":295,"o":1.37119,"h":1.37124,"l":1.37107,"c":1.37110},{"i":296,"o":1.37110,"h":1.37170,"l":1.37107,"c":1.37168},{"i":297,"o":1.37166,"h":1.37175,"l":1.37115,"c":1.37119},{"i":298,"o":1.37118,"h":1.37139,"l":1.37117,"c":1.37136},{"i":299,"o":1.37136,"h":1.37137,"l":1.37086,"c":1.37089},
{"i":300,"o":1.37089,"h":1.37101,"l":1.37075,"c":1.37079},{"i":301,"o":1.37081,"h":1.37083,"l":1.37076,"c":1.37079},{"i":302,"o":1.37081,"h":1.37107,"l":1.37060,"c":1.37079},{"i":303,"o":1.37079,"h":1.37086,"l":1.37076,"c":1.37083},{"i":304,"o":1.37081,"h":1.37092,"l":1.37079,"c":1.37088},{"i":305,"o":1.37089,"h":1.37092,"l":1.37069,"c":1.37082},{"i":306,"o":1.37082,"h":1.37095,"l":1.37079,"c":1.37092},{"i":307,"o":1.37089,"h":1.37125,"l":1.37086,"c":1.37117},{"i":308,"o":1.37110,"h":1.37127,"l":1.37101,"c":1.37118},{"i":309,"o":1.37121,"h":1.37124,"l":1.37081,"c":1.37101},
{"i":310,"o":1.37102,"h":1.37112,"l":1.37098,"c":1.37110},{"i":311,"o":1.37112,"h":1.37119,"l":1.37068,"c":1.37083},{"i":312,"o":1.37087,"h":1.37113,"l":1.37084,"c":1.37103},{"i":313,"o":1.37101,"h":1.37133,"l":1.37100,"c":1.37125},{"i":314,"o":1.37125,"h":1.37130,"l":1.37107,"c":1.37110},{"i":315,"o":1.37114,"h":1.37128,"l":1.37108,"c":1.37113},{"i":316,"o":1.37118,"h":1.37126,"l":1.37110,"c":1.37113},{"i":317,"o":1.37116,"h":1.37125,"l":1.37090,"c":1.37091},{"i":318,"o":1.37091,"h":1.37113,"l":1.37087,"c":1.37106},{"i":319,"o":1.37106,"h":1.37110,"l":1.37081,"c":1.37083},
{"i":320,"o":1.37084,"h":1.37085,"l":1.37049,"c":1.37052},{"i":321,"o":1.37052,"h":1.37055,"l":1.36936,"c":1.36953},{"i":322,"o":1.36956,"h":1.36988,"l":1.36919,"c":1.36944},{"i":323,"o":1.36955,"h":1.36959,"l":1.36939,"c":1.36944},{"i":324,"o":1.36945,"h":1.36948,"l":1.36916,"c":1.36939},{"i":325,"o":1.36936,"h":1.36945,"l":1.36780,"c":1.36840},{"i":326,"o":1.36840,"h":1.36910,"l":1.36820,"c":1.36904},{"i":327,"o":1.36898,"h":1.36985,"l":1.36887,"c":1.36974},{"i":328,"o":1.36974,"h":1.37056,"l":1.36939,"c":1.36997},{"i":329,"o":1.36997,"h":1.37049,"l":1.36968,"c":1.36983},
{"i":330,"o":1.36983,"h":1.37043,"l":1.36980,"c":1.37017},{"i":331,"o":1.37017,"h":1.37049,"l":1.36945,"c":1.37025},{"i":332,"o":1.37012,"h":1.37043,"l":1.36968,"c":1.36985},{"i":333,"o":1.36997,"h":1.37043,"l":1.36948,"c":1.36985},{"i":334,"o":1.36998,"h":1.37049,"l":1.36971,"c":1.36992},{"i":335,"o":1.36994,"h":1.37041,"l":1.36974,"c":1.36991},{"i":336,"o":1.36994,"h":1.37049,"l":1.36982,"c":1.36984},{"i":337,"o":1.36992,"h":1.37043,"l":1.36887,"c":1.36952},{"i":338,"o":1.36953,"h":1.36962,"l":1.36936,"c":1.36948},{"i":339,"o":1.36952,"h":1.37017,"l":1.36948,"c":1.37000},
{"i":340,"o":1.37006,"h":1.37021,"l":1.36933,"c":1.36936},{"i":341,"o":1.36934,"h":1.36945,"l":1.36875,"c":1.36887},{"i":342,"o":1.36887,"h":1.36945,"l":1.36884,"c":1.36913},{"i":343,"o":1.36913,"h":1.36951,"l":1.36910,"c":1.36945},{"i":344,"o":1.36945,"h":1.36956,"l":1.36944,"c":1.36952},{"i":345,"o":1.36952,"h":1.36980,"l":1.36951,"c":1.36975},{"i":346,"o":1.36971,"h":1.37009,"l":1.36969,"c":1.37000},{"i":347,"o":1.37002,"h":1.37006,"l":1.36994,"c":1.36998},{"i":348,"o":1.37002,"h":1.37006,"l":1.36994,"c":1.36998},{"i":349,"o":1.37002,"h":1.37014,"l":1.36994,"c":1.36997},
{"i":350,"o":1.37000,"h":1.37009,"l":1.36977,"c":1.36988},{"i":351,"o":1.36988,"h":1.37003,"l":1.36971,"c":1.36997},{"i":352,"o":1.36988,"h":1.37000,"l":1.36985,"c":1.36997},{"i":353,"o":1.36990,"h":1.36994,"l":1.36987,"c":1.36988},{"i":354,"o":1.36988,"h":1.37010,"l":1.36985,"c":1.37006},{"i":355,"o":1.37006,"h":1.37032,"l":1.37003,"c":1.37029},{"i":356,"o":1.37029,"h":1.37049,"l":1.37026,"c":1.37033},{"i":357,"o":1.37033,"h":1.37075,"l":1.37031,"c":1.37050},{"i":358,"o":1.37050,"h":1.37055,"l":1.37032,"c":1.37039},{"i":359,"o":1.37014,"h":1.37043,"l":1.37009,"c":1.37041},
{"i":360,"o":1.37014,"h":1.37052,"l":1.37012,"c":1.37041},{"i":361,"o":1.37039,"h":1.37049,"l":1.37020,"c":1.37023},{"i":362,"o":1.37032,"h":1.37038,"l":1.37014,"c":1.37021},{"i":363,"o":1.37032,"h":1.37038,"l":1.37010,"c":1.37014},{"i":364,"o":1.37017,"h":1.37019,"l":1.36988,"c":1.37014},{"i":365,"o":1.37014,"h":1.37043,"l":1.37009,"c":1.37036},{"i":366,"o":1.37036,"h":1.37090,"l":1.37035,"c":1.37062},{"i":367,"o":1.37062,"h":1.37090,"l":1.37045,"c":1.37050},{"i":368,"o":1.37052,"h":1.37096,"l":1.37032,"c":1.37049},{"i":369,"o":1.37049,"h":1.37197,"l":1.37000,"c":1.37183},
{"i":370,"o":1.37181,"h":1.37229,"l":1.37049,"c":1.37180},{"i":371,"o":1.37180,"h":1.37186,"l":1.37113,"c":1.37157},{"i":372,"o":1.37157,"h":1.37159,"l":1.37072,"c":1.37116},{"i":373,"o":1.37117,"h":1.37142,"l":1.37061,"c":1.37134}
]},
"layer":[
{"data":{"name":"zones"},"mark":{"type":"rect","color":"#B0C4DE","clip":true},
 "encoding":{
  "x":{"field":"x0","type":"quantitative","scale":{"domain":[-0.375,467.375],"nice":false,"zero":false},"axis":{"orient":"bottom","title":null,"values":[0,16,32,48,64,80,96,112,128,144,160,176,192,208,224,240,256,272,288,304,320,336,352,368],"labelExpr":"['9 May 2014','12 May 00:00','12 May 08:00','12 May 16:00','13 May 00:00','13 May 08:00','13 May 16:00','14 May 00:00','14 May 08:00','14 May 16:00','15 May 00:00','15 May 08:00','15 May 16:00','16 May 00:00','16 May 08:00','16 May 16:00','19 May 01:00','19 May 09:00','19 May 17:00','20 May 01:00','20 May 09:00','20 May 17:00','21 May 01:00','21 May 09:00'][round(datum.value/16)]"}},
  "x2":{"field":"x1"},
  "y":{"field":"p0","type":"quantitative","scale":{"domain":[1.36438,1.380135],"nice":false,"zero":false},"axis":{"orient":"right","title":null,"format":".5f","values":[1.38005,1.37945,1.37885,1.37825,1.37765,1.37705,1.37645,1.37585,1.37525,1.37465,1.37405,1.37345,1.37285,1.37225,1.37105,1.37045,1.36985,1.36925,1.36865,1.36745,1.36685,1.36625,1.36565,1.36505,1.36445]}},
  "y2":{"field":"p1"}}},
{"data":{"name":"grid"},"mark":{"type":"rule","color":"#000000","strokeDash":[3,3],"strokeWidth":1},
 "encoding":{"x":{"field":"i","type":"quantitative","scale":{"domain":[-0.375,467.375],"nice":false,"zero":false},"axis":{"orient":"bottom","title":null,"values":[0,16,32,48,64,80,96,112,128,144,160,176,192,208,224,240,256,272,288,304,320,336,352,368],"labelExpr":"['9 May 2014','12 May 00:00','12 May 08:00','12 May 16:00','13 May 00:00','13 May 08:00','13 May 16:00','14 May 00:00','14 May 08:00','14 May 16:00','15 May 00:00','15 May 08:00','15 May 16:00','16 May 00:00','16 May 08:00','16 May 16:00','19 May 01:00','19 May 09:00','19 May 17:00','20 May 01:00','20 May 09:00','20 May 17:00','21 May 01:00','21 May 09:00'][round(datum.value/16)]"}}}},
{"data":{"name":"levels"},"transform":[{"filter":"datum.k=='fib'"}],"mark":{"type":"rule","color":"#808080","strokeDash":[3,2],"strokeWidth":1},
 "encoding":{"y":{"field":"p","type":"quantitative","scale":{"domain":[1.36438,1.380135],"nice":false,"zero":false},"axis":{"orient":"right","title":null,"format":".5f","values":[1.38005,1.37945,1.37885,1.37825,1.37765,1.37705,1.37645,1.37585,1.37525,1.37465,1.37405,1.37345,1.37285,1.37225,1.37105,1.37045,1.36985,1.36925,1.36865,1.36745,1.36685,1.36625,1.36565,1.36505,1.36445]}}}},
{"data":{"name":"levels"},"transform":[{"filter":"datum.k=='res'"}],"mark":{"type":"rule","color":"#32CD32","strokeDash":[3,2],"strokeWidth":1},
 "encoding":{"y":{"field":"p","type":"quantitative","scale":{"domain":[1.36438,1.380135],"nice":false,"zero":false},"axis":{"orient":"right","title":null,"format":".5f","values":[1.38005,1.37945,1.37885,1.37825,1.37765,1.37705,1.37645,1.37585,1.37525,1.37465,1.37405,1.37345,1.37285,1.37225,1.37105,1.37045,1.36985,1.36925,1.36865,1.36745,1.36685,1.36625,1.36565,1.36505,1.36445]}}}},
{"data":{"name":"levels"},"transform":[{"filter":"datum.k=='sup'"}],"mark":{"type":"rule","color":"#FF0000","strokeDash":[3,2],"strokeWidth":1},
 "encoding":{"y":{"field":"p","type":"quantitative","scale":{"domain":[1.36438,1.380135],"nice":false,"zero":false},"axis":{"orient":"right","title":null,"format":".5f","values":[1.38005,1.37945,1.37885,1.37825,1.37765,1.37705,1.37645,1.37585,1.37525,1.37465,1.37405,1.37345,1.37285,1.37225,1.37105,1.37045,1.36985,1.36925,1.36865,1.36745,1.36685,1.36625,1.36565,1.36505,1.36445]}}}},
{"data":{"name":"levels"},"transform":[{"filter":"datum.k=='pivot'"}],"mark":{"type":"rule","color":"#FF00FF","strokeDash":[3,2],"strokeWidth":1},
 "encoding":{"y":{"field":"p","type":"quantitative","scale":{"domain":[1.36438,1.380135],"nice":false,"zero":false},"axis":{"orient":"right","title":null,"format":".5f","values":[1.38005,1.37945,1.37885,1.37825,1.37765,1.37705,1.37645,1.37585,1.37525,1.37465,1.37405,1.37345,1.37285,1.37225,1.37105,1.37045,1.36985,1.36925,1.36865,1.36745,1.36685,1.36625,1.36565,1.36505,1.36445]}}}},
{"data":{"name":"levels"},"transform":[{"filter":"datum.k=='price'"}],"mark":{"type":"rule","color":"#C0C0C0","strokeWidth":1},
 "encoding":{"y":{"field":"p","type":"quantitative","scale":{"domain":[1.36438,1.380135],"nice":false,"zero":false},"axis":{"orient":"right","title":null,"format":".5f","values":[1.38005,1.37945,1.37885,1.37825,1.37765,1.37705,1.37645,1.37585,1.37525,1.37465,1.37405,1.37345,1.37285,1.37225,1.37105,1.37045,1.36985,1.36925,1.36865,1.36745,1.36685,1.36625,1.36565,1.36505,1.36445]}}}},
{"data":{"name":"levels"},"transform":[{"filter":"datum.k=='hline'"}],"mark":{"type":"rule","color":"#FF4500","strokeWidth":2},
 "encoding":{"y":{"field":"p","type":"quantitative","scale":{"domain":[1.36438,1.380135],"nice":false,"zero":false},"axis":{"orient":"right","title":null,"format":".5f","values":[1.38005,1.37945,1.37885,1.37825,1.37765,1.37705,1.37645,1.37585,1.37525,1.37465,1.37405,1.37345,1.37285,1.37225,1.37105,1.37045,1.36985,1.36925,1.36865,1.36745,1.36685,1.36625,1.36565,1.36505,1.36445]}}}},
{"data":{"name":"levels"},"transform":[{"filter":"datum.k=='zone'"}],"mark":{"type":"rule","color":"#800000","strokeWidth":2},
 "encoding":{"y":{"field":"p","type":"quantitative","scale":{"domain":[1.36438,1.380135],"nice":false,"zero":false},"axis":{"orient":"right","title":null,"format":".5f","values":[1.38005,1.37945,1.37885,1.37825,1.37765,1.37705,1.37645,1.37585,1.37525,1.37465,1.37405,1.37345,1.37285,1.37225,1.37105,1.37045,1.36985,1.36925,1.36865,1.36745,1.36685,1.36625,1.36565,1.36505,1.36445]}}}},
{"data":{"name":"trend"},"mark":{"type":"line","color":"#707070","strokeWidth":1,"clip":true},
 "encoding":{"x":{"field":"i","type":"quantitative","scale":{"domain":[-0.375,467.375],"nice":false,"zero":false},"axis":{"orient":"bottom","title":null,"values":[0,16,32,48,64,80,96,112,128,144,160,176,192,208,224,240,256,272,288,304,320,336,352,368],"labelExpr":"['9 May 2014','12 May 00:00','12 May 08:00','12 May 16:00','13 May 00:00','13 May 08:00','13 May 16:00','14 May 00:00','14 May 08:00','14 May 16:00','15 May 00:00','15 May 08:00','15 May 16:00','16 May 00:00','16 May 08:00','16 May 16:00','19 May 01:00','19 May 09:00','19 May 17:00','20 May 01:00','20 May 09:00','20 May 17:00','21 May 01:00','21 May 09:00'][round(datum.value/16)]"}},
  "y":{"field":"p","type":"quantitative","scale":{"domain":[1.36438,1.380135],"nice":false,"zero":false},"axis":{"orient":"right","title":null,"format":".5f","values":[1.38005,1.37945,1.37885,1.37825,1.37765,1.37705,1.37645,1.37585,1.37525,1.37465,1.37405,1.37345,1.37285,1.37225,1.37105,1.37045,1.36985,1.36925,1.36865,1.36745,1.36685,1.36625,1.36565,1.36505,1.36445]}}}},
{"data":{"name":"plabels"},"mark":{"type":"text","color":"#A0A0A0","fontSize":11,"font":"Liberation Sans","align":"center","baseline":"middle","clip":true},
 "encoding":{"x":{"datum":373,"type":"quantitative","scale":{"domain":[-0.375,467.375],"nice":false,"zero":false},"axis":{"orient":"bottom","title":null,"values":[0,16,32,48,64,80,96,112,128,144,160,176,192,208,224,240,256,272,288,304,320,336,352,368],"labelExpr":"['9 May 2014','12 May 00:00','12 May 08:00','12 May 16:00','13 May 00:00','13 May 08:00','13 May 16:00','14 May 00:00','14 May 08:00','14 May 16:00','15 May 00:00','15 May 08:00','15 May 16:00','16 May 00:00','16 May 08:00','16 May 16:00','19 May 01:00','19 May 09:00','19 May 17:00','20 May 01:00','20 May 09:00','20 May 17:00','21 May 01:00','21 May 09:00'][round(datum.value/16)]"}},
  "y":{"field":"p","type":"quantitative","scale":{"domain":[1.36438,1.380135],"nice":false,"zero":false},"axis":{"orient":"right","title":null,"format":".5f","values":[1.38005,1.37945,1.37885,1.37825,1.37765,1.37705,1.37645,1.37585,1.37525,1.37465,1.37405,1.37345,1.37285,1.37225,1.37105,1.37045,1.36985,1.36925,1.36865,1.36745,1.36685,1.36625,1.36565,1.36505,1.36445]}},"text":{"field":"t"}}},
{"data":{"name":"candles"},"mark":{"type":"rule","color":"#000000","strokeWidth":1},
 "encoding":{"x":{"field":"i","type":"quantitative","scale":{"domain":[-0.375,467.375],"nice":false,"zero":false},"axis":{"orient":"bottom","title":null,"values":[0,16,32,48,64,80,96,112,128,144,160,176,192,208,224,240,256,272,288,304,320,336,352,368],"labelExpr":"['9 May 2014','12 May 00:00','12 May 08:00','12 May 16:00','13 May 00:00','13 May 08:00','13 May 16:00','14 May 00:00','14 May 08:00','14 May 16:00','15 May 00:00','15 May 08:00','15 May 16:00','16 May 00:00','16 May 08:00','16 May 16:00','19 May 01:00','19 May 09:00','19 May 17:00','20 May 01:00','20 May 09:00','20 May 17:00','21 May 01:00','21 May 09:00'][round(datum.value/16)]"}},
  "y":{"field":"l","type":"quantitative","scale":{"domain":[1.36438,1.380135],"nice":false,"zero":false},"axis":{"orient":"right","title":null,"format":".5f","values":[1.38005,1.37945,1.37885,1.37825,1.37765,1.37705,1.37645,1.37585,1.37525,1.37465,1.37405,1.37345,1.37285,1.37225,1.37105,1.37045,1.36985,1.36925,1.36865,1.36745,1.36685,1.36625,1.36565,1.36505,1.36445]}},"y2":{"field":"h"}}},
{"data":{"name":"candles"},"mark":{"type":"bar","width":2,"stroke":"#000000","strokeWidth":1},
 "encoding":{"x":{"field":"i","type":"quantitative","scale":{"domain":[-0.375,467.375],"nice":false,"zero":false},"axis":{"orient":"bottom","title":null,"values":[0,16,32,48,64,80,96,112,128,144,160,176,192,208,224,240,256,272,288,304,320,336,352,368],"labelExpr":"['9 May 2014','12 May 00:00','12 May 08:00','12 May 16:00','13 May 00:00','13 May 08:00','13 May 16:00','14 May 00:00','14 May 08:00','14 May 16:00','15 May 00:00','15 May 08:00','15 May 16:00','16 May 00:00','16 May 08:00','16 May 16:00','19 May 01:00','19 May 09:00','19 May 17:00','20 May 01:00','20 May 09:00','20 May 17:00','21 May 01:00','21 May 09:00'][round(datum.value/16)]"}},
  "y":{"field":"o","type":"quantitative","scale":{"domain":[1.36438,1.380135],"nice":false,"zero":false},"axis":{"orient":"right","title":null,"format":".5f","values":[1.38005,1.37945,1.37885,1.37825,1.37765,1.37705,1.37645,1.37585,1.37525,1.37465,1.37405,1.37345,1.37285,1.37225,1.37105,1.37045,1.36985,1.36925,1.36865,1.36745,1.36685,1.36625,1.36565,1.36505,1.36445]}},"y2":{"field":"c"},
  "fill":{"condition":{"test":"datum.c >= datum.o","value":"#1E90FF"},"value":"#FF8C00"}}},
{"data":{"name":"mab"},"mark":{"type":"line","color":"#0000FF","strokeWidth":2,"clip":true},
 "encoding":{"x":{"field":"i","type":"quantitative","scale":{"domain":[-0.375,467.375],"nice":false,"zero":false},"axis":{"orient":"bottom","title":null,"values":[0,16,32,48,64,80,96,112,128,144,160,176,192,208,224,240,256,272,288,304,320,336,352,368],"labelExpr":"['9 May 2014','12 May 00:00','12 May 08:00','12 May 16:00','13 May 00:00','13 May 08:00','13 May 16:00','14 May 00:00','14 May 08:00','14 May 16:00','15 May 00:00','15 May 08:00','15 May 16:00','16 May 00:00','16 May 08:00','16 May 16:00','19 May 01:00','19 May 09:00','19 May 17:00','20 May 01:00','20 May 09:00','20 May 17:00','21 May 01:00','21 May 09:00'][round(datum.value/16)]"}},
  "y":{"field":"p","type":"quantitative","scale":{"domain":[1.36438,1.380135],"nice":false,"zero":false},"axis":{"orient":"right","title":null,"format":".5f","values":[1.38005,1.37945,1.37885,1.37825,1.37765,1.37705,1.37645,1.37585,1.37525,1.37465,1.37405,1.37345,1.37285,1.37225,1.37105,1.37045,1.36985,1.36925,1.36865,1.36745,1.36685,1.36625,1.36565,1.36505,1.36445]}}}},
{"data":{"name":"mam"},"mark":{"type":"line","color":"#FF00FF","strokeWidth":2,"clip":true},
 "encoding":{"x":{"field":"i","type":"quantitative","scale":{"domain":[-0.375,467.375],"nice":false,"zero":false},"axis":{"orient":"bottom","title":null,"values":[0,16,32,48,64,80,96,112,128,144,160,176,192,208,224,240,256,272,288,304,320,336,352,368],"labelExpr":"['9 May 2014','12 May 00:00','12 May 08:00','12 May 16:00','13 May 00:00','13 May 08:00','13 May 16:00','14 May 00:00','14 May 08:00','14 May 16:00','15 May 00:00','15 May 08:00','15 May 16:00','16 May 00:00','16 May 08:00','16 May 16:00','19 May 01:00','19 May 09:00','19 May 17:00','20 May 01:00','20 May 09:00','20 May 17:00','21 May 01:00','21 May 09:00'][round(datum.value/16)]"}},
  "y":{"field":"p","type":"quantitative","scale":{"domain":[1.36438,1.380135],"nice":false,"zero":false},"axis":{"orient":"right","title":null,"format":".5f","values":[1.38005,1.37945,1.37885,1.37825,1.37765,1.37705,1.37645,1.37585,1.37525,1.37465,1.37405,1.37345,1.37285,1.37225,1.37105,1.37045,1.36985,1.36925,1.36865,1.36745,1.36685,1.36625,1.36565,1.36505,1.36445]}}}},
{"data":{"name":"fibtext"},"mark":{"type":"text","color":"#8080A0","fontSize":9,"font":"Liberation Sans","align":"right","baseline":"bottom","dy":-1},
 "encoding":{"x":{"datum":467.1,"type":"quantitative","scale":{"domain":[-0.375,467.375],"nice":false,"zero":false},"axis":{"orient":"bottom","title":null,"values":[0,16,32,48,64,80,96,112,128,144,160,176,192,208,224,240,256,272,288,304,320,336,352,368],"labelExpr":"['9 May 2014','12 May 00:00','12 May 08:00','12 May 16:00','13 May 00:00','13 May 08:00','13 May 16:00','14 May 00:00','14 May 08:00','14 May 16:00','15 May 00:00','15 May 08:00','15 May 16:00','16 May 00:00','16 May 08:00','16 May 16:00','19 May 01:00','19 May 09:00','19 May 17:00','20 May 01:00','20 May 09:00','20 May 17:00','21 May 01:00','21 May 09:00'][round(datum.value/16)]"}},
  "y":{"field":"p","type":"quantitative","scale":{"domain":[1.36438,1.380135],"nice":false,"zero":false},"axis":{"orient":"right","title":null,"format":".5f","values":[1.38005,1.37945,1.37885,1.37825,1.37765,1.37705,1.37645,1.37585,1.37525,1.37465,1.37405,1.37345,1.37285,1.37225,1.37105,1.37045,1.36985,1.36925,1.36865,1.36745,1.36685,1.36625,1.36565,1.36505,1.36445]}},"text":{"field":"t"}}},
{"data":{"name":"anchors"},"mark":{"type":"point","shape":"square","size":16,"filled":true,"fill":"#FFFFFF","stroke":"#FF4500","strokeWidth":1.5,"opacity":1},
 "encoding":{"x":{"field":"i","type":"quantitative","scale":{"domain":[-0.375,467.375],"nice":false,"zero":false},"axis":{"orient":"bottom","title":null,"values":[0,16,32,48,64,80,96,112,128,144,160,176,192,208,224,240,256,272,288,304,320,336,352,368],"labelExpr":"['9 May 2014','12 May 00:00','12 May 08:00','12 May 16:00','13 May 00:00','13 May 08:00','13 May 16:00','14 May 00:00','14 May 08:00','14 May 16:00','15 May 00:00','15 May 08:00','15 May 16:00','16 May 00:00','16 May 08:00','16 May 16:00','19 May 01:00','19 May 09:00','19 May 17:00','20 May 01:00','20 May 09:00','20 May 17:00','21 May 01:00','21 May 09:00'][round(datum.value/16)]"}},
  "y":{"field":"p","type":"quantitative","scale":{"domain":[1.36438,1.380135],"nice":false,"zero":false},"axis":{"orient":"right","title":null,"format":".5f","values":[1.38005,1.37945,1.37885,1.37825,1.37765,1.37705,1.37645,1.37585,1.37525,1.37465,1.37405,1.37345,1.37285,1.37225,1.37105,1.37045,1.36985,1.36925,1.36865,1.36745,1.36685,1.36625,1.36565,1.36505,1.36445]}}}},
{"data":{"name":"levels"},"transform":[{"filter":"datum.k!='fib'"}],"mark":{"type":"bar","height":11},
 "encoding":{"x":{"datum":468,"type":"quantitative","scale":{"domain":[-0.375,467.375],"nice":false,"zero":false},"axis":{"orient":"bottom","title":null,"values":[0,16,32,48,64,80,96,112,128,144,160,176,192,208,224,240,256,272,288,304,320,336,352,368],"labelExpr":"['9 May 2014','12 May 00:00','12 May 08:00','12 May 16:00','13 May 00:00','13 May 08:00','13 May 16:00','14 May 00:00','14 May 08:00','14 May 16:00','15 May 00:00','15 May 08:00','15 May 16:00','16 May 00:00','16 May 08:00','16 May 16:00','19 May 01:00','19 May 09:00','19 May 17:00','20 May 01:00','20 May 09:00','20 May 17:00','21 May 01:00','21 May 09:00'][round(datum.value/16)]"}},"x2":{"datum":478.5},
  "y":{"field":"p","type":"quantitative","scale":{"domain":[1.36438,1.380135],"nice":false,"zero":false},"axis":{"orient":"right","title":null,"format":".5f","values":[1.38005,1.37945,1.37885,1.37825,1.37765,1.37705,1.37645,1.37585,1.37525,1.37465,1.37405,1.37345,1.37285,1.37225,1.37105,1.37045,1.36985,1.36925,1.36865,1.36745,1.36685,1.36625,1.36565,1.36505,1.36445]}},
  "color":{"field":"k","type":"nominal","legend":null,"scale":{"domain":["hline","res","zone","price","pivot","sup"],"range":["#FF4500","#32CD32","#800000","#000000","#FF00FF","#FF0000"]}}}},
{"data":{"name":"levels"},"transform":[{"filter":"datum.k!='fib'"}],"mark":{"type":"text","color":"#FFFFFF","fontSize":9.5,"font":"Liberation Sans","align":"left","baseline":"middle"},
 "encoding":{"x":{"datum":468.7,"type":"quantitative","scale":{"domain":[-0.375,467.375],"nice":false,"zero":false},"axis":{"orient":"bottom","title":null,"values":[0,16,32,48,64,80,96,112,128,144,160,176,192,208,224,240,256,272,288,304,320,336,352,368],"labelExpr":"['9 May 2014','12 May 00:00','12 May 08:00','12 May 16:00','13 May 00:00','13 May 08:00','13 May 16:00','14 May 00:00','14 May 08:00','14 May 16:00','15 May 00:00','15 May 08:00','15 May 16:00','16 May 00:00','16 May 08:00','16 May 16:00','19 May 01:00','19 May 09:00','19 May 17:00','20 May 01:00','20 May 09:00','20 May 17:00','21 May 01:00','21 May 09:00'][round(datum.value/16)]"}},
  "y":{"field":"p","type":"quantitative","scale":{"domain":[1.36438,1.380135],"nice":false,"zero":false},"axis":{"orient":"right","title":null,"format":".5f","values":[1.38005,1.37945,1.37885,1.37825,1.37765,1.37705,1.37645,1.37585,1.37525,1.37465,1.37405,1.37345,1.37285,1.37225,1.37105,1.37045,1.36985,1.36925,1.36865,1.36745,1.36685,1.36625,1.36565,1.36505,1.36445]}},"text":{"field":"p","format":".5f"}}},
{"data":{"name":"info"},"mark":{"type":"text","color":"#000000","fontSize":9.5,"font":"Liberation Sans","align":"left","baseline":"middle"},
 "encoding":{"x":{"field":"i","type":"quantitative","scale":{"domain":[-0.375,467.375],"nice":false,"zero":false},"axis":{"orient":"bottom","title":null,"values":[0,16,32,48,64,80,96,112,128,144,160,176,192,208,224,240,256,272,288,304,320,336,352,368],"labelExpr":"['9 May 2014','12 May 00:00','12 May 08:00','12 May 16:00','13 May 00:00','13 May 08:00','13 May 16:00','14 May 00:00','14 May 08:00','14 May 16:00','15 May 00:00','15 May 08:00','15 May 16:00','16 May 00:00','16 May 08:00','16 May 16:00','19 May 01:00','19 May 09:00','19 May 17:00','20 May 01:00','20 May 09:00','20 May 17:00','21 May 01:00','21 May 09:00'][round(datum.value/16)]"}},
  "y":{"field":"p","type":"quantitative","scale":{"domain":[1.36438,1.380135],"nice":false,"zero":false},"axis":{"orient":"right","title":null,"format":".5f","values":[1.38005,1.37945,1.37885,1.37825,1.37765,1.37705,1.37645,1.37585,1.37525,1.37465,1.37405,1.37345,1.37285,1.37225,1.37105,1.37045,1.36985,1.36925,1.36865,1.36745,1.36685,1.36625,1.36565,1.36505,1.36445]}},"text":{"field":"t"}}},
{"data":{"name":"tri"},"mark":{"type":"text","color":"#000000","fontSize":7,"font":"DejaVu Sans","align":"center","baseline":"middle"},
 "encoding":{"x":{"field":"i","type":"quantitative","scale":{"domain":[-0.375,467.375],"nice":false,"zero":false},"axis":{"orient":"bottom","title":null,"values":[0,16,32,48,64,80,96,112,128,144,160,176,192,208,224,240,256,272,288,304,320,336,352,368],"labelExpr":"['9 May 2014','12 May 00:00','12 May 08:00','12 May 16:00','13 May 00:00','13 May 08:00','13 May 16:00','14 May 00:00','14 May 08:00','14 May 16:00','15 May 00:00','15 May 08:00','15 May 16:00','16 May 00:00','16 May 08:00','16 May 16:00','19 May 01:00','19 May 09:00','19 May 17:00','20 May 01:00','20 May 09:00','20 May 17:00','21 May 01:00','21 May 09:00'][round(datum.value/16)]"}},
  "y":{"field":"p","type":"quantitative","scale":{"domain":[1.36438,1.380135],"nice":false,"zero":false},"axis":{"orient":"right","title":null,"format":".5f","values":[1.38005,1.37945,1.37885,1.37825,1.37765,1.37705,1.37645,1.37585,1.37525,1.37465,1.37405,1.37345,1.37285,1.37225,1.37105,1.37045,1.36985,1.36925,1.36865,1.36745,1.36685,1.36625,1.36565,1.36505,1.36445]}},"text":{"field":"t"}}}
]
}
